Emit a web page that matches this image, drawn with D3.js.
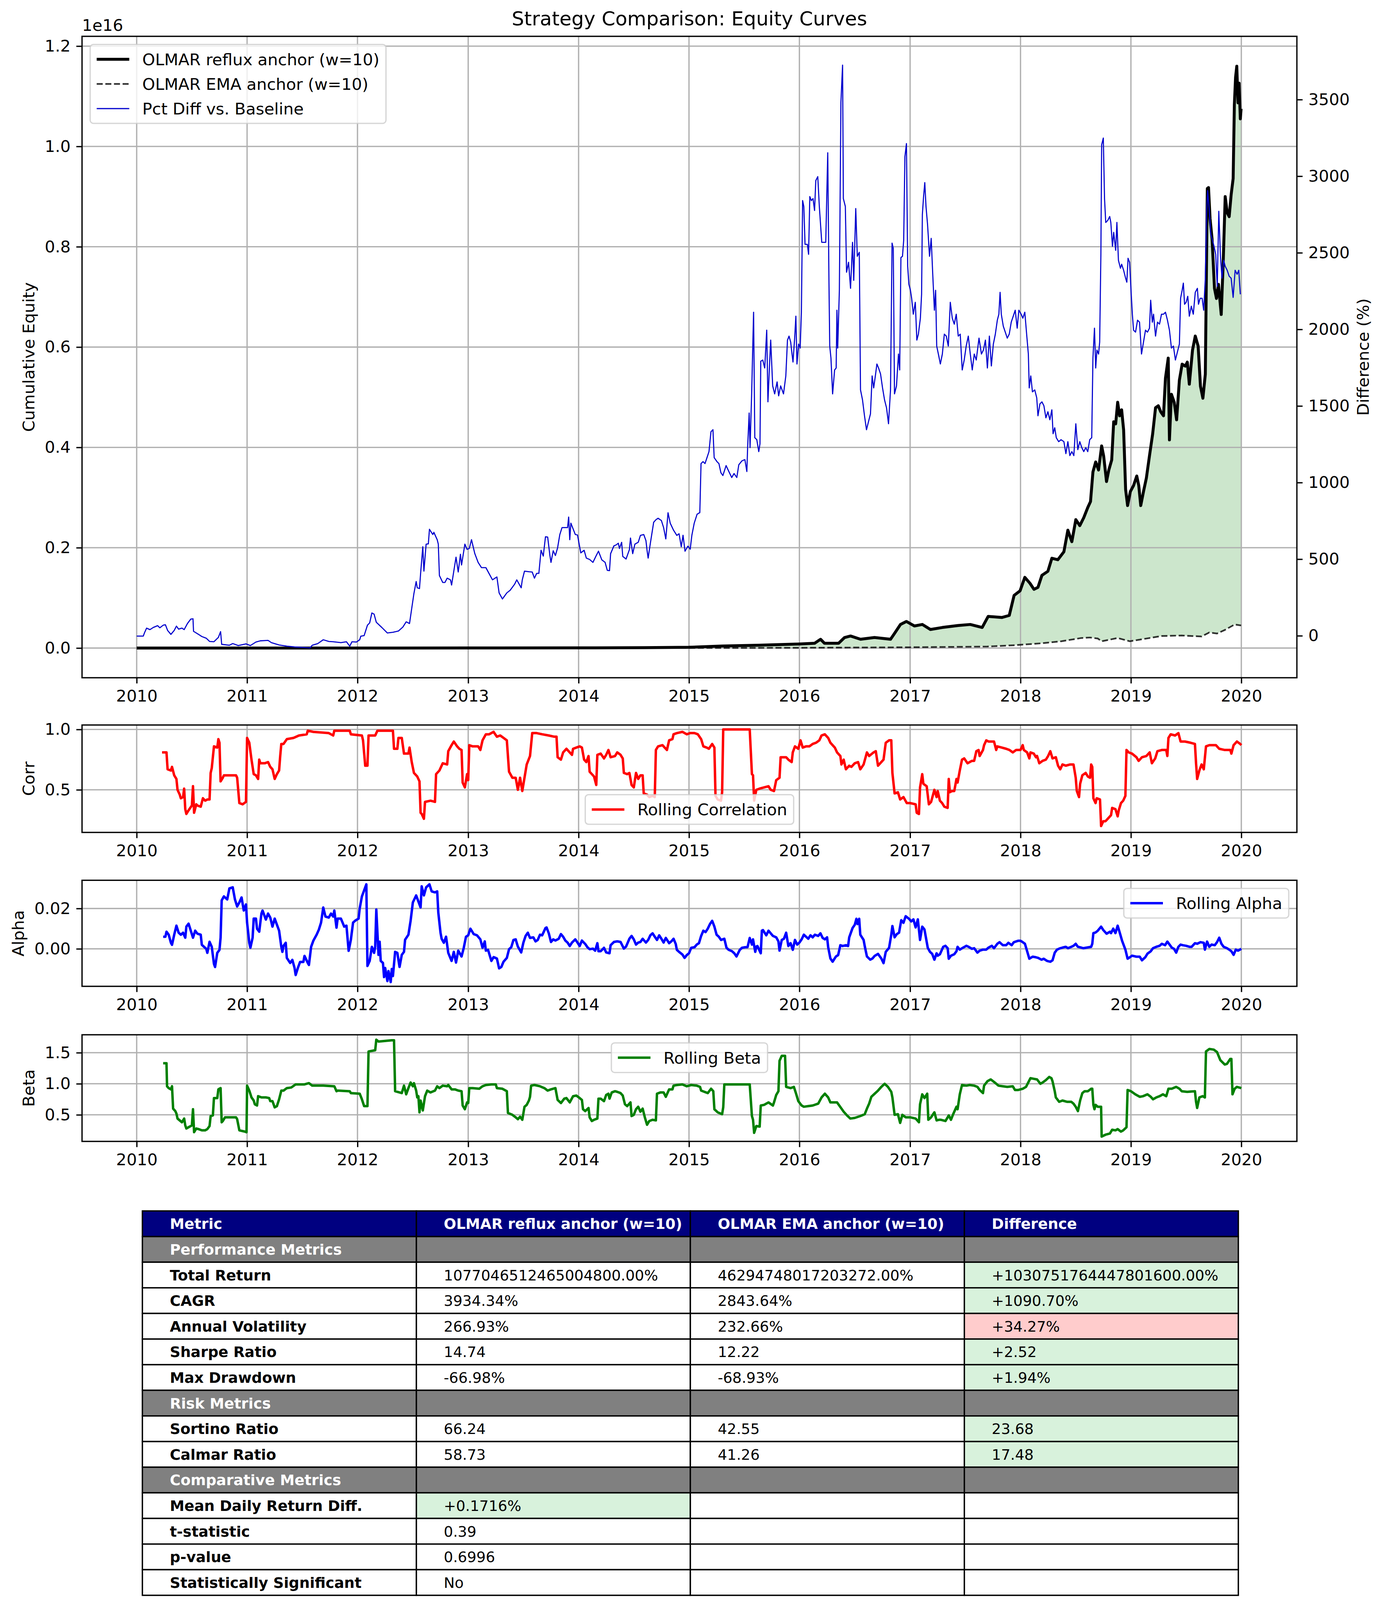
<!DOCTYPE html>
<html><head><meta charset="utf-8">
<script src="https://cdn.jsdelivr.net/npm/d3@7"></script>
<style>
html,body{margin:0;padding:0;background:#fff}
svg{display:block}
text{font-family:"DejaVu Sans",sans-serif}
</style>
</head><body>
<svg id="chart" width="3543" height="4170"></svg>
<script>
// ================= DATA =================
const yearTicks = [2010,2011,2012,2013,2014,2015,2016,2017,2018,2019,2020];
const equityTicks = [0.0,0.2,0.4,0.6,0.8,1.0,1.2];
const diffTicks = [0,500,1000,1500,2000,2500,3000,3500];
const corrTicks = [0.5,1.0];
const alphaTicks = [0.00,0.02];
const betaTicks = [0.5,1.0,1.5];

// Cumulative equity (units of 1e16): [decimal year, value]
const refluxEquity = [[2010.0,0],[2011.0,0],[2012.0,0],[2013.0,0.0001],[2014.0,0.0003],[2014.6,0.0008],[2015.0,0.0015],
[2015.307,0.004],[2015.632,0.0056],[2015.993,0.008],[2016.137,0.0095],[2016.191,0.0175],[2016.227,0.0095],[2016.354,0.0095],[2016.408,0.021],[2016.462,0.024],[2016.552,0.0175],
[2016.678,0.021],[2016.823,0.0175],[2016.859,0.029],[2016.913,0.047],[2016.967,0.053],[2017.039,0.044],[2017.111,0.047],[2017.184,0.037],[2017.292,0.041],[2017.436,0.045],
[2017.545,0.047],[2017.653,0.041],[2017.707,0.063],[2017.833,0.061],[2017.898,0.065],[2017.942,0.105],[2017.996,0.114],[2018.039,0.141],[2018.086,0.129],[2018.122,0.117],
[2018.158,0.121],[2018.194,0.145],[2018.248,0.153],[2018.284,0.179],[2018.338,0.176],[2018.393,0.192],[2018.429,0.235],[2018.465,0.212],[2018.501,0.256],[2018.537,0.244],
[2018.573,0.260],[2018.609,0.280],[2018.634,0.292],[2018.656,0.351],[2018.681,0.371],[2018.707,0.355],[2018.735,0.403],[2018.753,0.383],[2018.779,0.332],[2018.800,0.355],
[2018.826,0.375],[2018.844,0.451],[2018.862,0.447],[2018.880,0.490],[2018.898,0.463],[2018.916,0.475],[2018.934,0.435],[2018.952,0.316],[2018.970,0.284],[2018.995,0.312],
[2019.024,0.324],[2019.053,0.343],[2019.071,0.324],[2019.089,0.284],[2019.114,0.312],[2019.140,0.339],[2019.168,0.383],[2019.197,0.427],[2019.223,0.479],[2019.248,0.483],
[2019.270,0.471],[2019.295,0.463],[2019.313,0.538],[2019.338,0.578],[2019.349,0.415],[2019.367,0.506],[2019.392,0.490],[2019.414,0.455],[2019.439,0.534],[2019.464,0.566],
[2019.493,0.562],[2019.511,0.570],[2019.529,0.526],[2019.558,0.594],[2019.583,0.622],[2019.609,0.602],[2019.630,0.522],[2019.652,0.498],[2019.674,0.546],[2019.692,0.916],
[2019.703,0.918],[2019.717,0.856],[2019.735,0.816],[2019.757,0.717],[2019.775,0.697],[2019.793,0.725],[2019.818,0.665],[2019.836,0.769],[2019.854,0.900],[2019.872,0.868],
[2019.890,0.860],[2019.908,0.904],[2019.926,0.936],[2019.937,1.083],[2019.948,1.138],[2019.959,1.160],[2019.970,1.087],[2019.980,1.126],[2019.991,1.055],[2019.998,1.075]];

const emaEquity = [[2010.0,0],[2013.0,0],[2015.3,0.0002],[2016.0,0.0005],[2017.0,0.0015],[2017.5,0.0025],[2017.7,0.003],[2017.94,0.0056],[2018.19,0.0095],[2018.37,0.0135],
[2018.55,0.020],[2018.63,0.021],[2018.70,0.019],[2018.735,0.0135],[2018.88,0.020],[2018.99,0.0135],[2019.10,0.0175],[2019.28,0.024],[2019.46,0.025],[2019.64,0.023],
[2019.71,0.031],[2019.78,0.029],[2019.85,0.036],[2019.94,0.047],[2019.998,0.045]];

// Pct difference vs baseline (%), right axis
const pctDiff = [[2010.00,-2],[2010.06,-2],[2010.07,18],[2010.09,50],[2010.12,40],[2010.15,54],[2010.19,66],[2010.21,52],[2010.24,69],[2010.26,72],[2010.28,35],[2010.31,9],
[2010.34,35],[2010.36,63],[2010.38,43],[2010.41,50],[2010.43,40],[2010.46,80],[2010.49,109],[2010.51,111],[2010.515,29],[2010.56,9],[2010.59,-5],[2010.63,-16],[2010.66,-37],
[2010.70,-39],[2010.74,-11],[2010.76,27],[2010.77,-56],[2010.84,-62],[2010.87,-51],[2010.92,-64],[2010.99,-53],[2011.03,-64],[2011.08,-41],[2011.12,-33],[2011.19,-30],
[2011.22,-45],[2011.29,-60],[2011.36,-68],[2011.43,-73],[2011.50,-76],[2011.57,-79],[2011.59,-62],[2011.64,-51],[2011.69,-26],[2011.74,-37],[2011.78,-39],[2011.85,-45],
[2011.90,-39],[2011.93,-68],[2011.95,-39],[2011.99,-41],[2012.02,-26],[2012.03,-3],[2012.06,1],[2012.09,69],[2012.11,84],[2012.13,149],[2012.15,141],[2012.17,88],[2012.22,54],
[2012.27,18],[2012.32,23],[2012.37,31],[2012.41,57],[2012.44,91],[2012.47,80],[2012.49,179],[2012.51,277],[2012.53,354],[2012.54,313],[2012.56,308],[2012.57,405],[2012.59,581],
[2012.60,422],[2012.62,598],[2012.64,600],[2012.65,695],[2012.68,661],[2012.69,675],[2012.72,627],[2012.73,598],[2012.74,393],[2012.77,348],[2012.79,348],[2012.81,376],
[2012.84,365],[2012.85,331],[2012.86,376],[2012.89,513],[2012.91,416],[2012.93,532],[2012.94,462],[2012.97,598],[2012.99,564],[2013.01,570],[2013.03,627],[2013.06,536],
[2013.09,479],[2013.12,445],[2013.16,445],[2013.19,405],[2013.22,365],[2013.26,384],[2013.28,280],[2013.31,240],[2013.35,280],[2013.38,297],[2013.42,336],[2013.44,365],
[2013.48,313],[2013.49,365],[2013.51,422],[2013.55,418],[2013.58,416],[2013.60,376],[2013.62,407],[2013.64,407],[2013.66,558],[2013.68,520],[2013.70,646],[2013.72,644],
[2013.74,524],[2013.75,479],[2013.77,555],[2013.79,524],[2013.81,575],[2013.83,661],[2013.85,706],[2013.90,706],[2013.91,775],[2013.92,627],[2013.93,735],[2013.97,661],
[2013.99,658],[2014.02,541],[2014.05,558],[2014.07,507],[2014.10,498],[2014.13,479],[2014.16,524],[2014.18,552],[2014.21,496],[2014.24,479],[2014.26,427],[2014.28,425],
[2014.29,536],[2014.32,587],[2014.34,593],[2014.36,604],[2014.37,570],[2014.39,610],[2014.40,518],[2014.43,501],[2014.46,562],[2014.47,638],[2014.49,536],[2014.51,598],
[2014.54,610],[2014.56,655],[2014.59,661],[2014.61,621],[2014.62,558],[2014.63,507],[2014.65,604],[2014.68,741],[2014.70,757],[2014.72,767],[2014.75,752],[2014.77,706],
[2014.79,632],[2014.81,803],[2014.83,735],[2014.86,689],[2014.89,655],[2014.91,666],[2014.93,581],
[2014.946,656],[2014.964,552],[2014.990,585],[2015.011,565],[2015.026,656],[2015.047,734],[2015.073,793],[2015.098,804],[2015.109,1124],[2015.127,1137],[2015.145,1124],
[2015.163,1163],[2015.181,1202],[2015.199,1332],[2015.217,1345],[2015.228,1163],[2015.253,1137],[2015.271,1124],[2015.289,1064],[2015.307,1046],[2015.336,1111],[2015.361,1072],
[2015.387,1033],[2015.408,1059],[2015.433,1033],[2015.451,1116],[2015.480,1142],[2015.506,1150],[2015.524,1072],[2015.531,1228],[2015.545,1454],[2015.553,1228],[2015.567,1566],
[2015.585,2112],[2015.596,1293],[2015.614,1280],[2015.632,1202],[2015.643,1254],[2015.650,1792],[2015.668,1800],[2015.686,1748],[2015.704,1995],[2015.715,1527],[2015.729,1761],
[2015.740,1930],[2015.758,1631],[2015.776,1579],[2015.798,1657],[2015.812,1566],[2015.830,1631],[2015.856,1579],[2015.877,1696],[2015.892,1930],[2015.906,1956],[2015.921,1917],
[2015.931,1852],[2015.942,1787],[2015.957,1943],[2015.968,2086],[2015.978,1774],[2015.993,1904],[2016.007,1878],[2016.018,2112],[2016.029,2841],[2016.040,2802],[2016.051,2555],
[2016.072,2555],[2016.083,2490],[2016.094,2867],[2016.108,2841],[2016.123,2854],[2016.137,2776],[2016.148,2971],[2016.166,2997],[2016.180,2802],[2016.191,2685],[2016.202,2568],
[2016.238,2568],[2016.256,3153],[2016.267,2308],[2016.274,1891],[2016.285,1813],[2016.300,1579],[2016.318,1735],[2016.332,1748],[2016.339,2125],[2016.346,1878],[2016.361,2255],
[2016.375,3483],[2016.390,3725],[2016.397,2854],[2016.415,2802],[2016.426,2373],[2016.444,2438],[2016.462,2268],[2016.480,2568],[2016.491,2320],[2016.509,2789],[2016.523,2477],
[2016.541,2503],[2016.552,1605],[2016.570,1540],[2016.588,1436],[2016.606,1345],[2016.624,1397],[2016.642,1449],[2016.657,1696],[2016.671,1618],[2016.686,1696],[2016.700,1774],
[2016.715,1748],[2016.733,1709],[2016.751,1618],[2016.769,1540],[2016.787,1488],[2016.805,1384],[2016.823,1605],[2016.837,2563],[2016.848,2529],[2016.859,1579],[2016.877,1631],
[2016.895,1839],[2016.906,1735],[2016.917,2469],[2016.931,2477],[2016.942,2581],[2016.953,3127],[2016.967,3213],[2016.978,2412],[2016.989,2294],[2017.003,2255],[2017.014,2203],
[2017.029,2099],[2017.047,2177],[2017.061,1930],[2017.075,1969],[2017.093,2073],[2017.104,2229],[2017.111,2750],[2017.122,2867],[2017.133,2958],[2017.144,2802],[2017.158,2685],
[2017.176,2477],[2017.191,2594],[2017.205,2360],[2017.220,2125],[2017.231,2255],[2017.241,1891],[2017.256,1839],[2017.274,1774],[2017.292,1839],[2017.310,1969],[2017.328,1956],
[2017.346,1891],[2017.364,2177],[2017.382,2073],[2017.400,2034],[2017.418,2099],[2017.436,1956],[2017.454,1969],[2017.472,1735],[2017.490,1800],[2017.508,1891],[2017.527,1956],
[2017.545,1839],[2017.563,1735],[2017.581,1839],[2017.599,1800],[2017.624,1943],[2017.646,1839],[2017.664,1865],[2017.682,1930],[2017.700,1748],[2017.718,1956],[2017.736,1761],
[2017.754,1904],[2017.772,1969],[2017.790,2060],[2017.804,2099],[2017.815,2242],[2017.826,2099],[2017.844,2021],[2017.862,1982],[2017.880,1943],[2017.898,1969],[2017.916,2047],
[2017.934,2086],[2017.952,2125],[2017.970,2008],[2017.985,2125],[2018.006,2099],[2018.021,2073],[2018.039,2112],[2018.057,1956],[2018.071,1839],[2018.079,1618],[2018.093,1696],
[2018.108,1592],[2018.129,1605],[2018.147,1553],[2018.158,1436],[2018.176,1514],[2018.194,1527],[2018.212,1501],[2018.230,1423],[2018.248,1462],[2018.266,1410],[2018.284,1475],
[2018.295,1319],[2018.310,1358],[2018.324,1293],[2018.346,1267],[2018.367,1280],[2018.393,1267],[2018.411,1189],[2018.429,1267],[2018.447,1176],[2018.465,1202],[2018.483,1176],
[2018.501,1384],[2018.519,1215],[2018.537,1267],[2018.555,1228],[2018.573,1202],[2018.591,1228],[2018.609,1202],[2018.627,1280],[2018.645,1293],[2018.656,1813],[2018.670,2008],
[2018.681,1748],[2018.692,1865],[2018.707,1839],[2018.717,1917],[2018.728,2490],[2018.735,3205],[2018.750,3249],[2018.761,2854],[2018.772,2698],[2018.790,2711],[2018.808,2737],
[2018.818,2698],[2018.833,2542],[2018.844,2633],[2018.862,2516],[2018.873,2698],[2018.887,2451],[2018.905,2399],[2018.916,2425],[2018.934,2386],[2018.952,2334],[2018.963,2308],
[2018.974,2464],[2018.988,2438],[2019.003,2229],[2019.013,2099],[2019.024,1995],[2019.042,1982],[2019.060,2060],[2019.078,2047],[2019.096,1839],[2019.114,1917],[2019.132,1995],
[2019.150,1982],[2019.168,2008],[2019.179,2190],[2019.194,2047],[2019.205,2099],[2019.223,1956],[2019.241,2047],[2019.259,2034],[2019.277,2099],[2019.295,2099],[2019.313,2112],
[2019.331,2060],[2019.349,1995],[2019.367,1878],[2019.385,1891],[2019.403,1800],[2019.421,1852],[2019.439,1904],[2019.450,2203],[2019.464,2255],[2019.475,2302],[2019.486,2164],
[2019.500,2177],[2019.515,2216],[2019.529,2086],[2019.547,2151],[2019.565,2099],[2019.583,2242],[2019.602,2268],[2019.612,2164],[2019.627,2203],[2019.645,2203],[2019.659,2125],
[2019.674,2334],[2019.685,2750],[2019.695,2906],[2019.710,2776],[2019.724,2620],[2019.739,2581],[2019.753,2542],[2019.768,2490],[2019.782,2281],[2019.796,2771],[2019.811,2477],
[2019.825,2334],[2019.840,2451],[2019.854,2412],[2019.872,2386],[2019.890,2347],[2019.908,2334],[2019.926,2209],[2019.944,2386],[2019.962,2360],[2019.977,2386],[2019.991,2229]];

// Rolling correlation
const rollingCorr = [[2010.23,0.81],[2010.27,0.81],[2010.28,0.67],[2010.31,0.66],[2010.32,0.69],[2010.34,0.62],[2010.36,0.59],[2010.37,0.50],[2010.39,0.46],[2010.40,0.43],
[2010.42,0.44],[2010.43,0.51],[2010.44,0.34],[2010.45,0.30],[2010.47,0.33],[2010.50,0.37],[2010.51,0.53],[2010.52,0.31],[2010.54,0.38],[2010.55,0.37],[2010.58,0.36],[2010.60,0.43],
[2010.62,0.41],[2010.64,0.42],[2010.66,0.42],[2010.67,0.64],[2010.68,0.68],[2010.70,0.86],[2010.73,0.85],[2010.74,0.92],[2010.75,0.89],[2010.76,0.57],[2010.78,0.60],[2010.79,0.62],
[2010.90,0.62],[2010.91,0.60],[2010.93,0.39],[2010.96,0.38],[2010.99,0.40],[2011.00,0.93],[2011.02,0.89],[2011.04,0.75],[2011.06,0.63],[2011.08,0.62],[2011.10,0.59],[2011.11,0.75],
[2011.12,0.72],[2011.16,0.72],[2011.19,0.73],[2011.21,0.69],[2011.23,0.67],[2011.25,0.59],[2011.27,0.63],[2011.29,0.66],[2011.30,0.78],[2011.31,0.88],[2011.33,0.88],[2011.36,0.92],
[2011.42,0.93],[2011.47,0.95],[2011.54,0.96],[2011.55,0.99],[2011.60,0.98],[2011.74,0.97],[2011.78,0.95],[2011.79,0.99],[2011.93,0.99],[2011.94,0.96],[2012.04,0.95],[2012.05,0.91],
[2012.07,0.70],[2012.09,0.70],[2012.10,0.95],[2012.16,0.95],[2012.18,0.99],[2012.32,0.99],[2012.33,0.84],[2012.36,0.84],[2012.37,0.93],[2012.40,0.93],[2012.42,0.80],[2012.46,0.80],
[2012.47,0.85],[2012.49,0.73],[2012.51,0.64],[2012.54,0.61],[2012.56,0.57],[2012.57,0.31],[2012.58,0.30],[2012.60,0.26],[2012.61,0.40],[2012.66,0.41],[2012.70,0.40],[2012.71,0.63],
[2012.74,0.66],[2012.77,0.72],[2012.81,0.71],
[2012.82,0.82],[2012.85,0.87],[2012.87,0.90],[2012.90,0.86],[2012.92,0.84],[2012.94,0.83],[2012.95,0.56],[2012.97,0.52],[2012.99,0.63],[2013.00,0.58],[2013.01,0.87],[2013.04,0.86],
[2013.09,0.86],[2013.11,0.83],[2013.13,0.91],[2013.16,0.96],[2013.19,0.96],[2013.23,0.98],[2013.26,0.94],[2013.29,0.95],[2013.32,0.93],[2013.35,0.91],[2013.37,0.65],[2013.40,0.60],
[2013.43,0.60],[2013.45,0.50],[2013.47,0.60],[2013.49,0.49],[2013.51,0.60],[2013.53,0.71],[2013.56,0.78],[2013.58,0.97],[2013.62,0.97],[2013.67,0.96],[2013.73,0.95],[2013.78,0.94],
[2013.80,0.94],[2013.81,0.77],[2013.84,0.75],[2013.86,0.81],[2013.89,0.84],[2013.91,0.82],[2013.94,0.79],[2013.95,0.84],[2013.98,0.85],[2014.01,0.86],[2014.03,0.85],[2014.05,0.75],
[2014.07,0.73],[2014.09,0.78],[2014.10,0.65],[2014.12,0.63],[2014.14,0.61],[2014.16,0.54],[2014.17,0.79],[2014.20,0.80],[2014.23,0.76],[2014.25,0.79],[2014.27,0.83],[2014.29,0.77],
[2014.33,0.78],[2014.35,0.81],[2014.38,0.79],[2014.40,0.76],[2014.41,0.64],[2014.44,0.63],[2014.46,0.64],[2014.48,0.54],[2014.50,0.52],[2014.52,0.64],[2014.54,0.59],[2014.56,0.62],
[2014.58,0.62],[2014.59,0.47],[2014.62,0.46],[2014.64,0.44],[2014.67,0.45],[2014.69,0.44],[2014.70,0.83],[2014.72,0.86],[2014.76,0.87],[2014.78,0.85],[2014.80,0.83],[2014.82,0.91],
[2014.85,0.92],[2014.86,0.96],[2014.89,0.97],[2014.94,0.98],[2014.98,0.96],[2015.01,0.97],[2015.05,0.97],[2015.08,0.96],[2015.11,0.92],[2015.13,0.86],[2015.16,0.85],[2015.18,0.84],
[2015.21,0.88],[2015.23,0.85],[2015.24,0.45],[2015.26,0.42],[2015.29,0.41],[2015.30,0.48],[2015.31,1.00],[2015.55,1.00],[2015.57,0.63],[2015.58,0.62],[2015.59,0.41],[2015.61,0.50],
[2015.64,0.51],[2015.68,0.52],[2015.72,0.53],[2015.74,0.50],[2015.77,0.49],[2015.79,0.58],[2015.82,0.60],[2015.83,0.77],[2015.88,0.77],[2015.90,0.75],[2015.93,0.73],[2015.94,0.81],
[2015.96,0.86],[2015.99,0.84],[2016.01,0.91],[2016.03,0.85],[2016.06,0.86],[2016.09,0.86],[2016.12,0.88],[2016.15,0.89],[2016.18,0.91],[2016.20,0.95],[2016.23,0.96],[2016.26,0.93],
[2016.28,0.89],[2016.32,0.85],[2016.34,0.81],[2016.37,0.78],[2016.38,0.71],[2016.40,0.75],[2016.42,0.67],[2016.45,0.70],[2016.47,0.69],[2016.50,0.72],[2016.53,0.73],[2016.55,0.67],
[2016.58,0.71],[2016.61,0.81],[2016.63,0.78],[2016.67,0.81],[2016.69,0.82],[2016.71,0.70],[2016.74,0.73],[2016.76,0.75],[2016.78,0.89],[2016.81,0.91],[2016.83,0.91],[2016.84,0.64],
[2016.86,0.47],[2016.89,0.48],[2016.91,0.42],[2016.94,0.44],[2016.97,0.39],[2017.00,0.39],[2017.05,0.38],[2017.06,0.31],[2017.08,0.30],[2017.09,0.52],[2017.11,0.63],[2017.12,0.55],
[2017.15,0.53],[2017.17,0.38],[2017.19,0.40],[2017.22,0.50],[2017.24,0.44],
[2017.25,0.49],[2017.27,0.41],[2017.29,0.39],[2017.31,0.36],[2017.34,0.35],[2017.35,0.59],[2017.36,0.48],[2017.38,0.49],[2017.40,0.49],[2017.42,0.59],[2017.43,0.56],[2017.45,0.66],
[2017.47,0.75],[2017.49,0.76],[2017.52,0.72],[2017.56,0.74],[2017.58,0.74],[2017.60,0.82],[2017.62,0.83],[2017.63,0.78],[2017.66,0.83],[2017.67,0.87],[2017.69,0.91],[2017.71,0.90],
[2017.76,0.90],[2017.78,0.83],[2017.79,0.86],[2017.83,0.85],[2017.87,0.84],[2017.90,0.83],[2017.93,0.81],[2017.96,0.83],[2018.00,0.83],[2018.02,0.87],[2018.03,0.83],[2018.06,0.81],
[2018.08,0.76],[2018.09,0.81],[2018.12,0.80],[2018.14,0.77],[2018.15,0.78],[2018.17,0.72],[2018.20,0.74],[2018.23,0.75],[2018.25,0.78],[2018.27,0.82],[2018.29,0.76],[2018.32,0.77],
[2018.34,0.70],[2018.36,0.67],[2018.38,0.71],[2018.41,0.70],[2018.45,0.71],[2018.48,0.71],[2018.50,0.60],[2018.51,0.49],[2018.53,0.44],[2018.54,0.55],[2018.56,0.62],[2018.59,0.64],
[2018.61,0.61],[2018.63,0.60],[2018.64,0.71],[2018.65,0.69],[2018.66,0.43],[2018.68,0.39],[2018.69,0.43],[2018.72,0.42],[2018.73,0.20],[2018.75,0.24],[2018.77,0.24],[2018.79,0.26],
[2018.82,0.29],[2018.83,0.35],[2018.86,0.34],[2018.88,0.28],[2018.89,0.33],[2018.91,0.39],[2018.93,0.41],[2018.95,0.45],[2018.96,0.83],[2018.98,0.81],[2019.01,0.80],[2019.05,0.77],
[2019.07,0.74],[2019.10,0.77],[2019.14,0.78],[2019.17,0.81],[2019.19,0.72],[2019.22,0.76],[2019.24,0.82],[2019.28,0.83],[2019.32,0.83],[2019.33,0.78],[2019.34,0.93],[2019.36,0.96],
[2019.40,0.95],[2019.43,0.97],[2019.45,0.90],[2019.49,0.90],[2019.54,0.89],[2019.58,0.88],[2019.59,0.72],[2019.60,0.59],[2019.62,0.66],[2019.64,0.71],[2019.66,0.67],[2019.68,0.86],
[2019.71,0.87],[2019.77,0.87],[2019.80,0.84],[2019.85,0.83],[2019.90,0.83],[2019.91,0.80],[2019.93,0.87],[2019.96,0.90],[2019.99,0.88],[2020.00,0.87]];

// Rolling alpha
const rollingAlpha = [[2010.24,0.006],[2010.26,0.006],[2010.27,0.0085],[2010.29,0.007],[2010.31,0.003],[2010.32,0.002],[2010.33,0.0045],[2010.34,0.007],[2010.36,0.0115],
[2010.38,0.008],[2010.40,0.007],[2010.42,0.008],[2010.44,0.0055],[2010.45,0.011],[2010.47,0.0125],[2010.49,0.009],[2010.51,0.0055],[2010.53,0.009],[2010.55,0.0075],[2010.58,0.007],
[2010.59,0.002],[2010.61,0.001],[2010.63,0.000],[2010.64,-0.002],[2010.66,0.0035],[2010.68,0.001],[2010.70,-0.0075],[2010.71,-0.009],[2010.73,-0.002],[2010.75,-0.0005],
[2010.76,0.0055],[2010.77,0.024],[2010.79,0.026],[2010.82,0.0245],[2010.84,0.030],[2010.87,0.0305],[2010.89,0.0245],[2010.91,0.021],[2010.93,0.023],[2010.95,0.0255],[2010.97,0.019],
[2010.99,0.022],[2011.00,0.013],[2011.02,0.003],[2011.03,0.0005],[2011.05,0.0055],[2011.06,0.015],[2011.08,0.015],[2011.09,0.010],[2011.11,0.0085],[2011.13,0.0175],[2011.14,0.019],
[2011.17,0.0145],[2011.19,0.0175],[2011.21,0.0155],[2011.23,0.011],[2011.25,0.015],[2011.27,0.012],[2011.29,0.009],[2011.31,0.001],[2011.32,-0.0015],[2011.33,0.0015],[2011.35,0.003],
[2011.36,-0.0045],[2011.39,-0.007],[2011.41,-0.0055],[2011.43,-0.0095],[2011.44,-0.013],[2011.46,-0.0095],[2011.48,-0.0065],[2011.51,-0.0065],[2011.52,-0.0035],[2011.55,-0.007],
[2011.56,-0.008],[2011.58,0.001],[2011.60,0.004],[2011.63,0.007],[2011.65,0.0095],[2011.67,0.013],[2011.69,0.0205],[2011.71,0.016],[2011.74,0.0155],[2011.76,0.0175],[2011.78,0.016],
[2011.79,0.019],[2011.81,0.0105],[2011.82,0.015],[2011.85,0.015],[2011.88,0.011],[2011.90,0.0115],[2011.92,-0.001],[2011.94,0.0045],[2011.96,0.013],[2011.98,0.014],[2012.01,0.015],
[2012.02,0.020],[2012.04,0.026],[2012.07,0.0305],[2012.08,0.032],[2012.09,-0.0085],[2012.11,-0.006],[2012.13,0.001],[2012.15,-0.002],[2012.16,0.001],[2012.17,0.0195],[2012.19,-0.003],
[2012.20,0.0035],[2012.21,-0.006],[2012.23,-0.007],[2012.24,-0.014],[2012.25,-0.0095],[2012.27,-0.016],[2012.28,-0.011],[2012.30,-0.0165],[2012.31,-0.010],[2012.32,-0.0135],
[2012.34,-0.0015],[2012.36,-0.002],[2012.38,-0.009],[2012.40,-0.003],[2012.42,-0.0015],[2012.43,0.0045],[2012.46,0.007],[2012.48,0.014],[2012.50,0.023],[2012.53,0.0265],
[2012.55,0.0235],[2012.57,0.0205],[2012.58,0.031],[2012.60,0.0265],[2012.62,0.0305],[2012.65,0.032],[2012.67,0.0285],[2012.70,0.028],[2012.72,0.0285],[2012.73,0.018],[2012.75,0.008],
[2012.76,0.005],[2012.78,0.003],[2012.80,0.006],
[2012.82,-0.002],[2012.85,-0.006],[2012.87,-0.0015],[2012.89,-0.0068],[2012.91,-0.0009],[2012.94,-0.0038],[2012.96,0.0005],[2012.98,0.006],[2013.00,0.0067],[2013.02,0.010],
[2013.05,0.0073],[2013.08,0.0067],[2013.11,0.0047],[2013.13,0.0005],[2013.15,0.0037],[2013.16,-0.0009],[2013.18,-0.0005],[2013.21,-0.006],[2013.23,-0.0041],[2013.26,-0.0048],
[2013.28,-0.0097],[2013.30,-0.009],[2013.32,-0.0064],[2013.35,-0.0045],[2013.37,-0.0002],[2013.39,0.0008],[2013.41,0.0044],[2013.43,0.0047],[2013.45,0.0011],[2013.48,-0.0018],
[2013.50,0.0031],[2013.52,0.0064],[2013.54,0.008],[2013.56,0.0054],[2013.59,0.0057],[2013.61,0.0037],[2013.63,0.0044],[2013.65,0.007],[2013.67,0.0067],[2013.70,0.0103],[2013.71,0.0106],
[2013.73,0.0077],[2013.75,0.0034],[2013.77,0.0047],[2013.79,0.0041],[2013.82,0.005],[2013.84,0.0073],[2013.86,0.006],[2013.88,0.0041],[2013.90,0.0031],[2013.92,0.0014],[2013.94,0.0031],
[2013.97,0.0047],[2013.99,0.0031],[2014.01,0.0014],[2014.03,0.0041],[2014.06,0.0024],[2014.08,0.0008],[2014.10,-0.0002],[2014.13,0.0001],[2014.15,-0.0009],[2014.17,0.0028],
[2014.18,-0.0012],[2014.20,-0.0012],[2014.23,0.0005],[2014.25,-0.0018],[2014.28,-0.0022],[2014.29,0.0018],[2014.32,0.0034],[2014.35,0.0037],[2014.38,0.0034],[2014.41,0.0001],
[2014.43,0.0011],[2014.46,0.005],[2014.48,0.0064],[2014.50,0.0047],[2014.52,0.0021],[2014.54,0.0031],[2014.56,0.0034],[2014.58,0.005],[2014.61,0.0031],[2014.63,0.0044],[2014.65,0.0067],
[2014.67,0.0077],[2014.69,0.006],[2014.71,0.0044],[2014.73,0.0067],[2014.75,0.005],[2014.77,0.0031],[2014.79,0.0054],[2014.82,0.0028],[2014.84,0.0037],[2014.86,0.005],[2014.88,0.0024],
[2014.89,-0.0005],[2014.91,-0.0015],[2014.94,-0.0028],[2014.96,-0.0045],[2014.98,-0.0031],[2015.00,-0.0022],[2015.02,0.0005],[2015.05,0.0008],[2015.07,0.0021],[2015.09,0.0028],
[2015.11,0.0064],[2015.13,0.009],[2015.15,0.0083],[2015.17,0.010],[2015.19,0.0123],[2015.21,0.0139],[2015.23,0.011],[2015.25,0.007],[2015.27,0.006],[2015.29,0.0044],[2015.32,0.005],
[2015.34,0.0005],[2015.36,-0.0005],[2015.39,-0.0012],[2015.41,-0.0022],[2015.43,-0.0038],[2015.46,-0.0005],[2015.48,0.0005],[2015.51,0.0008],[2015.53,0.0008],[2015.55,0.0054],
[2015.57,0.0021],[2015.58,0.0047],[2015.60,-0.0015],[2015.61,0.0011],[2015.62,0.0014],[2015.65,-0.0022],[2015.66,0.009],[2015.67,0.0093],[2015.70,0.0067],[2015.72,0.009],[2015.74,0.0077],
[2015.76,0.0064],[2015.79,0.0057],[2015.81,0.0037],[2015.82,-0.0009],[2015.84,0.0044],[2015.86,0.005],[2015.88,0.008],[2015.90,0.0014],[2015.92,0.0028],[2015.94,-0.0005],[2015.96,0.0044],
[2015.98,0.0021],[2016.00,0.0031],[2016.02,0.0047],[2016.04,0.007],[2016.06,0.006],[2016.08,0.005],[2016.10,0.0067],[2016.12,0.0057],[2016.14,0.007],[2016.17,0.0064],[2016.19,0.0077],
[2016.21,0.0054],[2016.23,0.0047],[2016.25,0.0057],[2016.26,0.0008],[2016.28,-0.0048],[2016.30,-0.0064],[2016.33,-0.0038],[2016.35,-0.0031],[2016.37,0.0018],[2016.39,0.0014],
[2016.42,0.0018],[2016.44,0.0014],[2016.45,0.0057],[2016.48,0.0103],[2016.50,0.0119],[2016.515,0.0149],[2016.525,0.0123],[2016.54,0.0149],[2016.55,0.007],[2016.58,0.0044],
[2016.59,0.0014],[2016.61,-0.0038],[2016.64,-0.0054],[2016.66,-0.0048],[2016.68,-0.0035],[2016.71,-0.0025],[2016.74,-0.0048],[2016.76,-0.0071],[2016.78,-0.0015],[2016.81,0.0005],
[2016.83,0.007],[2016.84,0.0113],[2016.86,0.0057],[2016.88,0.0073],[2016.90,0.008],[2016.92,0.0142],[2016.94,0.0129],[2016.96,0.0162],[2016.99,0.0149],[2017.01,0.0136],[2017.03,0.0146],
[2017.05,0.0106],[2017.07,0.0146],[2017.09,0.0044],[2017.11,0.011],[2017.13,0.0096],[2017.16,0.0005],[2017.18,-0.0015],[2017.20,-0.0025],[2017.22,-0.0054],[2017.24,-0.0022],
[2017.25,-0.0034],[2017.27,-0.0027],[2017.30,0.001],[2017.32,0.0015],[2017.34,0.0003],[2017.35,-0.0049],[2017.37,-0.0034],[2017.40,-0.0027],[2017.42,-0.0012],[2017.43,0.001],
[2017.45,-0.0004],[2017.48,0.0006],[2017.51,0.0015],[2017.53,0.001],[2017.56,0.0],[2017.58,0.0003],[2017.61,-0.0019],[2017.63,-0.0009],[2017.66,-0.0004],[2017.69,-0.0004],
[2017.71,0.0006],[2017.74,0.0015],[2017.76,0.0003],[2017.79,0.0025],[2017.81,0.0033],[2017.84,0.0018],[2017.87,0.0018],[2017.89,0.003],[2017.92,0.0018],[2017.94,0.0033],[2017.98,0.004],
[2018.00,0.004],[2018.02,0.0033],[2018.04,0.0025],[2018.06,-0.0012],[2018.08,-0.0049],[2018.11,-0.0039],[2018.14,-0.0042],[2018.16,-0.0045],[2018.19,-0.0054],[2018.21,-0.0049],
[2018.24,-0.006],[2018.27,-0.0064],[2018.29,-0.0057],[2018.31,-0.0019],[2018.33,-0.0004],[2018.36,0.0003],[2018.38,0.0006],[2018.41,0.001],[2018.43,0.0003],[2018.46,0.001],
[2018.48,0.0015],[2018.50,0.0025],[2018.52,0.001],[2018.55,0.0006],[2018.57,0.0003],[2018.60,0.0006],[2018.64,0.001],[2018.65,0.0025],[2018.66,0.0078],[2018.68,0.0081],[2018.70,0.009],
[2018.73,0.011],[2018.75,0.0093],[2018.78,0.0075],[2018.81,0.0085],[2018.82,0.0078],[2018.84,0.010],[2018.86,0.0078],[2018.88,0.0115],[2018.90,0.0078],[2018.92,0.004],[2018.95,-0.0004],
[2018.97,-0.0049],[2018.99,-0.0042],[2019.01,-0.0034],[2019.05,-0.0039],[2019.08,-0.0039],[2019.10,-0.0057],[2019.13,-0.0042],[2019.15,-0.0024],[2019.18,-0.0012],[2019.20,0.0003],
[2019.23,0.001],[2019.26,0.0015],[2019.28,0.0025],[2019.31,0.0018],[2019.33,0.0036],[2019.35,0.0021],[2019.37,0.0006],[2019.39,0.0],[2019.41,-0.0019],[2019.43,0.001],[2019.45,0.0021],
[2019.47,0.0018],[2019.50,0.0015],[2019.53,0.001],[2019.55,0.001],[2019.58,0.0028],[2019.60,0.0025],[2019.63,0.0033],[2019.66,0.003],[2019.67,-0.0004],[2019.69,0.0036],[2019.71,0.001],
[2019.73,0.0021],[2019.76,0.0018],[2019.78,0.0033],[2019.80,0.0055],[2019.82,0.0025],[2019.84,0.001],[2019.87,0.0003],[2019.89,-0.0004],[2019.91,-0.0012],[2019.93,-0.003],
[2019.95,-0.0004],[2019.97,-0.0009],[2020.00,0.0]];

// Rolling beta
const rollingBeta = [[2010.24,1.33],[2010.27,1.33],[2010.275,0.96],[2010.29,0.93],[2010.31,0.91],[2010.32,0.96],[2010.33,0.60],[2010.35,0.56],[2010.36,0.52],[2010.37,0.44],
[2010.39,0.41],[2010.41,0.38],[2010.43,0.44],[2010.44,0.33],[2010.45,0.28],[2010.47,0.30],[2010.50,0.33],[2010.51,0.59],[2010.52,0.22],[2010.54,0.28],[2010.56,0.27],[2010.59,0.25],
[2010.62,0.25],[2010.64,0.27],[2010.66,0.32],[2010.67,0.48],[2010.69,0.49],[2010.70,0.77],[2010.73,0.77],[2010.74,0.91],[2010.76,0.93],[2010.77,0.38],[2010.78,0.40],[2010.80,0.46],
[2010.90,0.46],[2010.91,0.43],[2010.93,0.25],[2010.98,0.23],[2010.995,0.22],[2011.00,0.97],[2011.02,0.89],[2011.04,0.78],[2011.06,0.73],[2011.07,0.67],[2011.09,0.65],[2011.10,0.80],
[2011.13,0.78],[2011.17,0.78],[2011.20,0.77],[2011.21,0.72],[2011.23,0.72],[2011.25,0.62],[2011.27,0.64],[2011.29,0.75],[2011.31,0.89],[2011.33,0.89],[2011.36,0.93],[2011.40,0.94],
[2011.44,0.99],[2011.52,0.99],[2011.56,1.01],[2011.59,0.97],[2011.69,0.97],[2011.79,0.96],[2011.81,0.88],[2011.82,0.89],[2011.93,0.88],[2011.94,0.85],[2012.02,0.84],[2012.04,0.75],
[2012.06,0.64],[2012.09,0.64],[2012.10,1.52],[2012.16,1.54],[2012.17,1.71],[2012.19,1.68],[2012.31,1.70],[2012.33,1.70],[2012.34,0.88],[2012.40,0.85],[2012.42,0.97],[2012.44,0.83],
[2012.46,0.93],[2012.48,1.02],[2012.50,0.96],[2012.51,1.01],[2012.53,0.89],[2012.54,0.78],[2012.55,0.80],[2012.56,0.54],[2012.57,0.73],[2012.59,0.57],[2012.61,0.80],[2012.63,0.89],
[2012.66,0.86],[2012.70,0.89],[2012.72,0.96],[2012.74,0.93],[2012.77,0.97],[2012.81,0.96],
[2012.82,0.98],[2012.85,0.91],[2012.88,0.91],[2012.91,0.89],[2012.94,0.88],[2012.95,0.65],[2012.97,0.59],[2012.99,0.70],[2013.00,0.69],[2013.01,0.93],[2013.04,0.93],[2013.10,0.92],
[2013.13,0.96],[2013.16,0.98],[2013.21,0.99],[2013.25,0.99],[2013.26,0.93],[2013.31,0.92],[2013.35,0.88],[2013.36,0.53],[2013.40,0.50],[2013.43,0.46],[2013.45,0.43],[2013.47,0.47],
[2013.49,0.42],[2013.51,0.63],[2013.53,0.66],[2013.55,0.73],[2013.56,0.79],[2013.57,0.97],[2013.60,0.98],[2013.65,0.96],[2013.69,0.93],[2013.72,0.89],[2013.75,0.91],[2013.79,0.93],
[2013.81,0.74],[2013.84,0.69],[2013.87,0.76],[2013.89,0.77],[2013.92,0.70],[2013.95,0.80],[2013.98,0.81],[2014.01,0.77],[2014.03,0.74],[2014.04,0.59],[2014.06,0.56],[2014.09,0.61],
[2014.10,0.46],[2014.12,0.40],[2014.14,0.42],[2014.17,0.44],[2014.18,0.76],[2014.20,0.76],[2014.23,0.72],[2014.25,0.82],[2014.27,0.84],[2014.28,0.76],[2014.30,0.86],[2014.33,0.88],
[2014.35,0.87],[2014.38,0.85],[2014.40,0.81],[2014.42,0.67],[2014.44,0.64],[2014.47,0.70],[2014.48,0.48],[2014.50,0.50],[2014.52,0.59],[2014.54,0.63],[2014.56,0.55],[2014.58,0.60],
[2014.60,0.46],[2014.62,0.34],[2014.64,0.40],[2014.67,0.42],[2014.70,0.41],[2014.71,0.84],[2014.74,0.86],[2014.77,0.86],[2014.79,0.79],[2014.82,0.91],[2014.85,0.91],[2014.86,0.97],
[2014.89,0.98],[2014.94,0.99],[2014.98,0.96],[2015.02,0.98],[2015.07,0.97],[2015.10,0.95],[2015.11,0.89],[2015.14,0.87],[2015.17,0.85],[2015.20,0.92],[2015.22,0.88],[2015.23,0.59],
[2015.26,0.54],[2015.30,0.51],[2015.31,0.62],[2015.32,0.99],[2015.55,0.99],[2015.57,0.48],[2015.58,0.42],[2015.59,0.21],[2015.61,0.32],[2015.64,0.31],[2015.65,0.65],[2015.68,0.66],
[2015.72,0.70],[2015.76,0.65],[2015.77,0.70],[2015.79,0.82],[2015.81,0.88],[2015.82,1.37],[2015.84,1.45],[2015.87,1.45],[2015.88,0.95],[2015.92,0.93],[2015.95,0.95],[2015.97,0.84],
[2015.99,0.72],[2016.02,0.65],[2016.04,0.63],[2016.08,0.64],[2016.12,0.65],[2016.17,0.68],[2016.20,0.78],[2016.23,0.84],[2016.26,0.78],[2016.28,0.70],[2016.34,0.70],[2016.38,0.60],
[2016.40,0.55],[2016.43,0.49],[2016.46,0.44],[2016.50,0.45],[2016.55,0.48],[2016.59,0.51],[2016.61,0.60],[2016.63,0.68],[2016.65,0.79],[2016.68,0.84],[2016.71,0.89],[2016.74,0.95],
[2016.77,1.00],[2016.80,0.95],[2016.83,0.87],[2016.84,0.78],[2016.86,0.50],[2016.89,0.51],[2016.91,0.37],[2016.93,0.50],[2016.96,0.46],[2017.00,0.46],[2017.05,0.44],[2017.08,0.38],
[2017.09,0.67],[2017.11,0.83],[2017.13,0.77],[2017.155,0.84],[2017.165,0.42],[2017.19,0.46],[2017.22,0.54],[2017.24,0.41],
[2017.26,0.42],[2017.28,0.42],[2017.32,0.40],[2017.35,0.49],[2017.37,0.42],[2017.39,0.51],[2017.42,0.63],[2017.43,0.59],[2017.45,0.83],[2017.47,0.98],[2017.51,0.97],[2017.54,0.98],
[2017.58,0.97],[2017.61,0.95],[2017.63,0.90],[2017.66,0.85],[2017.67,0.97],[2017.70,1.04],[2017.73,1.07],[2017.76,1.03],[2017.80,0.97],[2017.84,0.96],[2017.88,0.95],[2017.93,0.96],
[2017.95,0.90],[2017.98,0.90],[2018.02,0.92],[2018.05,0.95],[2018.07,1.02],[2018.09,1.09],[2018.12,1.08],[2018.15,1.07],[2018.18,1.00],[2018.20,1.02],[2018.23,1.06],[2018.26,1.11],
[2018.28,1.09],[2018.29,1.04],[2018.31,0.88],[2018.32,0.78],[2018.35,0.71],[2018.38,0.73],[2018.42,0.71],[2018.46,0.71],[2018.48,0.68],[2018.50,0.63],[2018.52,0.56],[2018.54,0.73],
[2018.56,0.85],[2018.58,0.88],[2018.61,0.88],[2018.64,0.92],[2018.65,0.92],[2018.66,0.66],[2018.67,0.59],[2018.68,0.66],[2018.70,0.63],[2018.73,0.63],[2018.735,0.15],[2018.77,0.18],
[2018.81,0.20],[2018.83,0.26],[2018.86,0.25],[2018.88,0.27],[2018.91,0.23],[2018.93,0.25],[2018.96,0.30],[2018.97,0.90],[2019.00,0.88],[2019.04,0.83],[2019.08,0.79],[2019.11,0.80],
[2019.15,0.83],[2019.18,0.79],[2019.20,0.75],[2019.23,0.78],[2019.26,0.80],[2019.29,0.83],[2019.32,0.80],[2019.34,0.92],[2019.37,0.92],[2019.41,0.95],[2019.44,0.92],[2019.46,0.88],
[2019.51,0.87],[2019.58,0.88],[2019.59,0.71],[2019.60,0.61],[2019.62,0.78],[2019.65,0.80],[2019.67,0.78],[2019.68,1.52],[2019.71,1.56],[2019.75,1.55],[2019.78,1.51],[2019.81,1.38],
[2019.85,1.31],[2019.87,1.32],[2019.90,1.40],[2019.91,1.40],[2019.92,0.83],[2019.94,0.92],[2019.96,0.95],[2020.00,0.93]];

// Table content
const tableHeader = ["Metric","OLMAR reflux anchor (w=10)","OLMAR EMA anchor (w=10)","Difference"];
const tableRows = [
  {type:"section", cells:["Performance Metrics","","",""]},
  {type:"row", cells:["Total Return","1077046512465004800.00%","46294748017203272.00%","+1030751764447801600.00%"], hl:[null,null,null,"good"]},
  {type:"row", cells:["CAGR","3934.34%","2843.64%","+1090.70%"], hl:[null,null,null,"good"]},
  {type:"row", cells:["Annual Volatility","266.93%","232.66%","+34.27%"], hl:[null,null,null,"bad"]},
  {type:"row", cells:["Sharpe Ratio","14.74","12.22","+2.52"], hl:[null,null,null,"good"]},
  {type:"row", cells:["Max Drawdown","-66.98%","-68.93%","+1.94%"], hl:[null,null,null,"good"]},
  {type:"section", cells:["Risk Metrics","","",""]},
  {type:"row", cells:["Sortino Ratio","66.24","42.55","23.68"], hl:[null,null,null,"good"]},
  {type:"row", cells:["Calmar Ratio","58.73","41.26","17.48"], hl:[null,null,null,"good"]},
  {type:"section", cells:["Comparative Metrics","","",""]},
  {type:"row", cells:["Mean Daily Return Diff.","+0.1716%","",""], hl:[null,"good",null,null]},
  {type:"row", cells:["t-statistic","0.39","",""], hl:[null,null,null,null]},
  {type:"row", cells:["p-value","0.6996","",""], hl:[null,null,null,null]},
  {type:"row", cells:["Statistically Significant","No","",""], hl:[null,null,null,null]}
];

// ================= RENDER =================
const FONT = "DejaVu Sans";
const FS = 41.7;      // 10pt at 300 dpi
const LW = 3.33;      // 0.8pt
const TICK = 14.6;
const svg = d3.select("#chart");
svg.append("rect").attr("width",3543).attr("height",4170).attr("fill","#fff");

function dec(y){ const yr=Math.floor(y); const a=Date.UTC(yr,0,1), b=Date.UTC(yr+1,0,1); return new Date(a+(y-yr)*(b-a)); }

const X0 = 210, X1 = 3320;
const x = d3.scaleUtc().domain([dec(2009.505), dec(2020.502)]).range([X0, X1]);
const yearDates = yearTicks.map(y => new Date(Date.UTC(y,0,1)));

function panel(top, bottom, yScale, yTicks, yFmt, ylabel){
  const g = svg.append("g");
  const under = g.append("g");
  const grid = g.append("g");
  yearDates.forEach(d => grid.append("line").attr("x1",x(d)).attr("x2",x(d)).attr("y1",top).attr("y2",bottom)
    .attr("stroke","#b0b0b0").attr("stroke-width",LW));
  yTicks.forEach(v => grid.append("line").attr("x1",X0).attr("x2",X1).attr("y1",yScale(v)).attr("y2",yScale(v))
    .attr("stroke","#b0b0b0").attr("stroke-width",LW));
  const content = g.append("g");
  const clipId = "clip"+Math.round(top);
  svg.append("defs").append("clipPath").attr("id",clipId).append("rect")
    .attr("x",X0).attr("y",top).attr("width",X1-X0).attr("height",bottom-top);
  content.attr("clip-path",`url(#${clipId})`);
  under.attr("clip-path",`url(#${clipId})`);
  return {g, under, grid, content, top, bottom, yScale, yTicks, yFmt, ylabel};
}

function styleAxis(a){
  a.attr("font-size",FS).attr("font-family",FONT);
  a.select(".domain").remove();
  a.selectAll(".tick line").attr("stroke","#000").attr("stroke-width",LW);
  a.selectAll(".tick text").attr("fill","#000");
}

function finishPanel(p){
  const {g, top, bottom, yScale, yTicks, yFmt, ylabel} = p;
  g.append("rect").attr("x",X0).attr("y",top).attr("width",X1-X0).attr("height",bottom-top)
    .attr("fill","none").attr("stroke","#000").attr("stroke-width",LW);
  const xa = g.append("g").attr("transform",`translate(0,${bottom})`)
    .call(d3.axisBottom(x).tickValues(yearDates).tickFormat(d3.utcFormat("%Y")).tickSize(TICK).tickPadding(17));
  styleAxis(xa);
  const ya = g.append("g").attr("transform",`translate(${X0},0)`)
    .call(d3.axisLeft(yScale).tickValues(yTicks).tickFormat(d3.format(yFmt)).tickSize(TICK).tickPadding(TICK));
  styleAxis(ya);
  const bb = ya.node().getBBox();
  g.append("text").attr("transform",`translate(${X0 + bb.x - 16.7 - 9.8},${(top+bottom)/2}) rotate(-90)`)
    .attr("text-anchor","middle").attr("font-size",FS).attr("font-family",FONT).attr("fill","#000").text(ylabel);
}

function legend(cx, cy, anchor, items){
  const pad = 16.7, hl = 83.4, htp = 33.4, rowH = 42.3, sp = 20.85;
  const g = svg.append("g");
  const texts = items.map(it => g.append("text").attr("font-size",FS).attr("font-family",FONT).attr("fill","#000").text(it.label));
  const tw = d3.max(texts, t => t.node().getComputedTextLength());
  const w = pad + hl + htp + tw + pad;
  const h = 2*pad + items.length*rowH + (items.length-1)*sp;
  let x0, y0;
  if (anchor==="ul"){ x0=cx; y0=cy; }
  else if (anchor==="ur"){ x0=cx-w; y0=cy; }
  else if (anchor==="uc"){ x0=cx-w/2; y0=cy; }
  else { x0=cx-w/2; y0=cy-h; }
  g.insert("rect","text").attr("x",x0).attr("y",y0).attr("width",w).attr("height",h).attr("rx",8.3)
    .attr("fill","#fff").attr("fill-opacity",0.8).attr("stroke","#cccccc").attr("stroke-opacity",0.8).attr("stroke-width",LW);
  items.forEach((it,i) => {
    const yc = y0 + pad + rowH/2 + i*(rowH+sp);
    const ln = g.append("line").attr("x1",x0+pad).attr("x2",x0+pad+hl).attr("y1",yc).attr("y2",yc)
      .attr("stroke",it.color).attr("stroke-width",it.width);
    if (it.dash) ln.attr("stroke-dasharray",it.dash);
    if (it.opacity) ln.attr("stroke-opacity",it.opacity);
    texts[i].attr("x",x0+pad+hl+htp).attr("y",yc+15);
  });
}

// ---------- Main panel ----------
const MT = 93, MB = 1735;
const yEq = d3.scaleLinear().domain([-0.0592, 1.2195]).range([MB, MT]);
const yDiff = d3.scaleLinear().domain([-274, 3913]).range([MB, MT]);
const main = panel(MT, MB, yEq, equityTicks, ".1f", "Cumulative Equity");

// fill between reflux and EMA (below grid)
const fillPts = refluxEquity.map(d => [x(dec(d[0])), yEq(d[1])])
  .concat(emaEquity.slice().reverse().map(d => [x(dec(d[0])), yEq(d[1])]));
main.under.append("path").attr("d", "M" + fillPts.map(p=>p.join(",")).join("L") + "Z")
  .attr("fill","green").attr("fill-opacity",0.2).attr("stroke","none");

const lineEq = d3.line().x(d => x(dec(d[0]))).y(d => yEq(d[1]));
main.content.append("path").attr("d", lineEq(refluxEquity)).attr("fill","none").attr("stroke","#000")
  .attr("stroke-width",7.5).attr("stroke-linejoin","round");
main.content.append("path").attr("d", lineEq(emaEquity)).attr("fill","none").attr("stroke","#000").attr("stroke-opacity",0.8)
  .attr("stroke-width",4.2).attr("stroke-dasharray","15.4,6.7");
finishPanel(main);
legend(X0+20.85, MT+20.85, "ul", [
  {label:"OLMAR reflux anchor (w=10)", color:"#000", width:7.5},
  {label:"OLMAR EMA anchor (w=10)", color:"#000", width:4.2, dash:"15.4,6.7", opacity:0.8},
  {label:"Pct Diff vs. Baseline", color:"#0000cd", width:2.8}
]);
const lineDiff = d3.line().x(d => x(dec(d[0]))).y(d => yDiff(d[1]));
svg.append("path").attr("d", lineDiff(pctDiff)).attr("fill","none").attr("stroke","#0000cd")
  .attr("stroke-width",2.8).attr("stroke-linejoin","round");
// right axis
const ra = svg.append("g").attr("transform",`translate(${X1},0)`)
  .call(d3.axisRight(yDiff).tickValues(diffTicks).tickFormat(d3.format("d")).tickSize(TICK).tickPadding(TICK));
styleAxis(ra);
const rbb = ra.node().getBBox();
svg.append("text").attr("transform",`translate(${X1 + rbb.x + rbb.width + 16.7 + 31.7},${(MT+MB)/2}) rotate(-90)`)
  .attr("text-anchor","middle").attr("font-size",FS).attr("font-family",FONT).text("Difference (%)");
// title and offset text
svg.append("text").attr("x",(X0+X1)/2).attr("y",65).attr("text-anchor","middle").attr("font-size",50)
  .attr("font-family",FONT).text("Strategy Comparison: Equity Curves");
svg.append("text").attr("x",X0).attr("y",79).attr("font-size",FS).attr("font-family",FONT).text("1e16");

// ---------- Sub panels ----------
function subPanel(top, bottom, domain, ticks, fmt, label, data, color, legendSpec){
  const ys = d3.scaleLinear().domain(domain).range([bottom, top]);
  const p = panel(top, bottom, ys, ticks, fmt, label);
  p.content.append("path").attr("d", d3.line().x(d => x(dec(d[0]))).y(d => ys(d[1]))(data))
    .attr("fill","none").attr("stroke",color).attr("stroke-width",6.25).attr("stroke-linejoin","round");
  finishPanel(p);
  legend(legendSpec.x(top,bottom), legendSpec.y(top,bottom), legendSpec.anchor, [{label:legendSpec.label, color, width:6.25}]);
}
subPanel(1856, 2131, [0.147, 1.037], corrTicks, ".1f", "Corr", rollingCorr, "#ff0000",
  {anchor:"lc", x:()=> (X0+X1)/2, y:(t,b)=> b-20.85, label:"Rolling Correlation"});
subPanel(2253.5, 2525, [-0.0186, 0.034], alphaTicks, ".2f", "Alpha", rollingAlpha, "#0000ff",
  {anchor:"ur", x:()=> X1-20.85, y:(t,b)=> t+20.85, label:"Rolling Alpha"});
subPanel(2649, 2922, [0.072, 1.789], betaTicks, ".1f", "Beta", rollingBeta, "#008000",
  {anchor:"uc", x:()=> (X0+X1)/2, y:(t,b)=> t+20.85, label:"Rolling Beta"});

// ---------- Table ----------
const TX0 = 364.5, TY0 = 3100, CW = 701.4, RH = 65.6, TFS = 37.5;
const tg = svg.append("g").attr("font-family",FONT).attr("font-size",TFS);
const allRows = [{type:"header", cells:tableHeader}].concat(tableRows);
const colX = d3.range(5).map(i => TX0 + i*CW);
allRows.forEach((r,ri) => {
  const y = TY0 + ri*RH;
  r.cells.forEach((c,ci) => {
    let fill = "#ffffff";
    if (r.type==="header") fill = "#000080";
    else if (r.type==="section") fill = "#808080";
    else if (r.hl && r.hl[ci]==="good") fill = "#d8f2dc";
    else if (r.hl && r.hl[ci]==="bad") fill = "#ffcccc";
    tg.append("rect").attr("x",colX[ci]).attr("y",y).attr("width",CW).attr("height",RH)
      .attr("fill",fill).attr("stroke","#000").attr("stroke-width",3.5);
  });
});
allRows.forEach((r,ri) => {
  const y = TY0 + ri*RH + RH/2 + 13.5;
  r.cells.forEach((c,ci) => {
    if (!c) return;
    const white = r.type==="header" || r.type==="section";
    const bold = white || ci===0;
    tg.append("text").attr("x",colX[ci]+CW*0.1).attr("y",y).attr("fill", white?"#fff":"#000")
      .attr("font-weight", bold?"bold":"normal").text(c);
  });
});
</script>
</body></html>
